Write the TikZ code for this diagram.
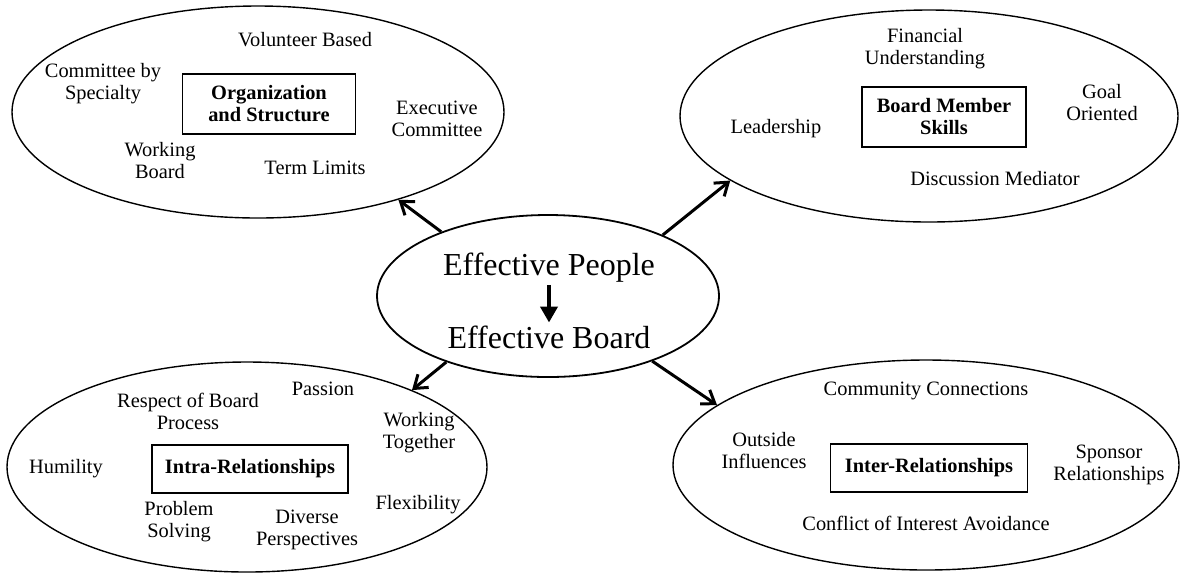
\documentclass[tikz,border=0pt]{standalone}
\usepackage{fontspec}
\setmainfont{Liberation Serif}
\usepackage{tikz}
\usetikzlibrary{arrows.meta}
\usetikzlibrary{positioning}
\usetikzlibrary{shapes.geometric}

\tikzset{
  blob/.style={draw, ellipse, line width=0.7pt, inner sep=0pt},
  item/.style={align=center, font=\fontsize{10.2}{11}\selectfont},
  head/.style={draw, line width=0.7pt, align=center, inner sep=0pt,
    font=\fontsize{10.2}{11}\selectfont\bfseries},
  link/.style={-{Straight Barb[length=6pt,width=8.5pt]}, line width=1.5pt},
}

\begin{document}
\begin{tikzpicture}[x=0.5pt, y=-0.5pt]
\useasboundingbox (0,0) rectangle (1181,575);

% middle
\node[blob, line width=0.9pt, minimum width=171pt, minimum height=81pt] at (548,296) (E) {};
\node at (549,268) (P) {\fontsize{16}{18}\selectfont Effective People};
\node at (549,337) (B) {\fontsize{16}{18}\selectfont Effective Board};
\draw[-{Triangle[length=8pt,width=8.5pt]}, line width=2.3pt, shorten <=-2.5pt, shorten >=-2pt] (P.south) -- (B.north);

% organization and structure
\node[blob, minimum width=246pt, minimum height=106pt] at (258,112) (OS) {};
\node[head, minimum width=86.5pt, minimum height=30pt] at (269,104) (OSh) {Organization\\and Structure};
\node[item] at (305,40) (VB) {Volunteer Based};
\node[item] at (103,84) (CS) {Committee by\\Specialty};
\node[item] at (437,119) (EC) {Executive\\Committee};
\node[item] at (160,161) (WB) {Working\\Board};
\node[item] at (315,168) (TL) {Term Limits};

% board member skills
\node[blob, minimum width=249pt, minimum height=106pt] at (929,116) (BS) {};
\node[head, minimum width=82pt, minimum height=30pt] at (944,117) (BSh) {Board Member\\Skills};
\node[item] at (925,49) (FU) {Financial\\Understanding};
\node[item] at (1102,103) (GO) {Goal\\Oriented};
\node[item] at (776,129) (LS) {Leadership};
\node[item] at (995,179) (DM) {Discussion Mediator};

% intra-relationships
\node[blob, minimum width=240pt, minimum height=105pt] at (247,467) (IA) {};
\node[head, minimum width=98pt, minimum height=24pt] at (250,469) (IAh) {Intra-Relationships};
\node[item] at (188,411) (RP) {Respect of Board\\Process};
\node[item] at (323,389) (PA) {Passion};
\node[item] at (419,433) (WT) {Working\\Together};
\node[item] at (66,469) (HU) {Humility};
\node[item] at (179,522) (PS) {Problem\\Solving};
\node[item] at (307,530) (DP) {Diverse\\Perspectives};
\node[item] at (418,505) (FL) {Flexibility};

% inter-relationships
\node[blob, minimum width=253pt, minimum height=105pt] at (926,465) (IE) {};
\node[head, minimum width=98.5pt, minimum height=24pt] at (929,468) (IEh) {Inter-Relationships};
\node[item] at (926,391) (CC) {Community Connections};
\node[item] at (764,451) (OI) {Outside\\Influences};
\node[item] at (1109,465) (SR) {Sponsor\\Relationships};
\node[item] at (926,523) (CI) {Conflict of Interest Avoidance};

\draw[link] (E.149.7) -- (OS.-32.7);
\draw[link] (E.28.1) -- (BS.-162.3);
\draw[link] (E.-147.4) -- (IA.25);
\draw[link] (E.-32.4) -- (IE.164.5);
\end{tikzpicture}
\end{document}
